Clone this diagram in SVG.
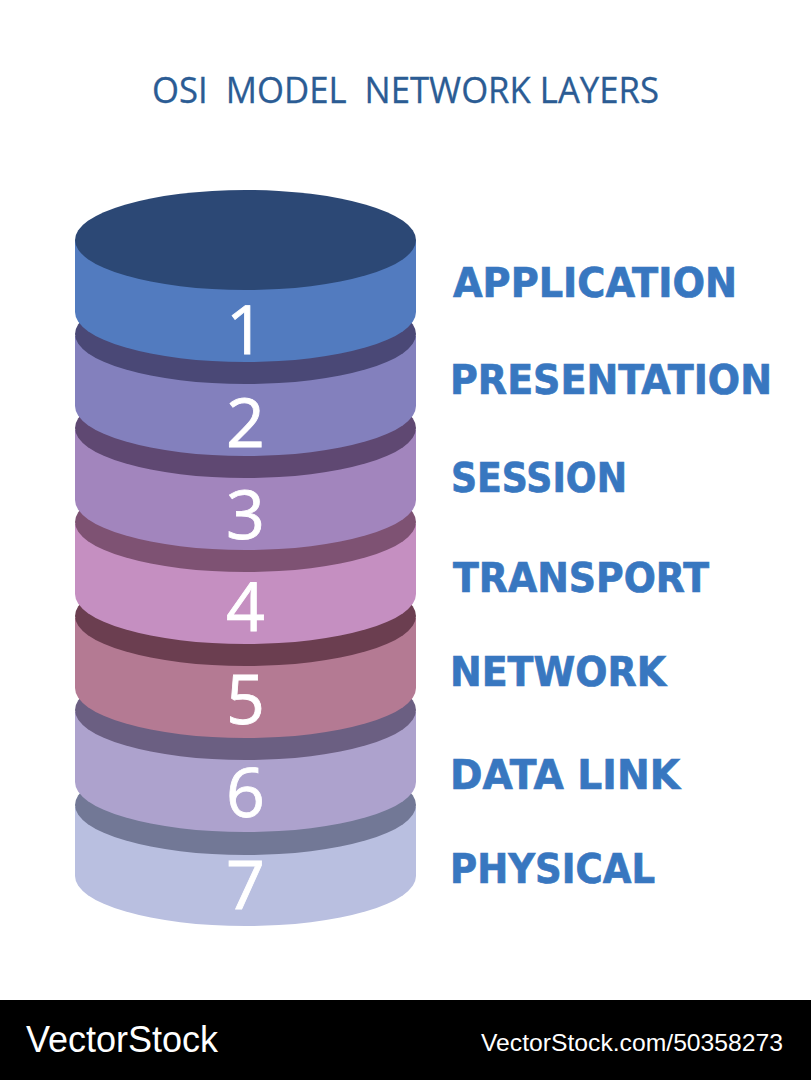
<svg xmlns="http://www.w3.org/2000/svg" width="811" height="1080" viewBox="0 0 811 1080">
<style>
.t{font-family:"Open Sans","Noto Sans",sans-serif;}
.l{font-family:"DejaVu Sans",sans-serif;font-weight:700;font-size:40px;fill:#3877c0;stroke:#3877c0;stroke-width:0.7px;}
.n{font-family:"Open Sans","Noto Sans",sans-serif;font-size:68px;fill:#fff;stroke:#fff;stroke-width:0.8px;text-anchor:middle;}
.w{font-family:"Liberation Sans",sans-serif;fill:#fff;}
</style>
<rect width="811" height="1080" fill="#fff"/>
<text class="t" x="152" y="103" font-size="36" fill="#2b5c94" stroke="#2b5c94" stroke-width="0.3" textLength="507" lengthAdjust="spacingAndGlyphs" xml:space="preserve">OSI  MODEL  NETWORK LAYERS</text>
<g id="layer7"><path d="M75 807V876A170.500 50 0 0 0 416 876V807Z" fill="#b9bfe0"/><ellipse cx="245.500" cy="805" rx="170.500" ry="50" fill="#727896"/><text class="n" x="245.500" y="909">7</text></g>
<g id="layer6"><path d="M75 712V782A170.500 50 0 0 0 416 782V712Z" fill="#ada2cd"/><ellipse cx="245.500" cy="710" rx="170.500" ry="50" fill="#6b5f82"/><text class="n" x="245.500" y="817">6</text></g>
<g id="layer5"><path d="M75 618V688A170.500 50 0 0 0 416 688V618Z" fill="#b47a93"/><ellipse cx="245.500" cy="616" rx="170.500" ry="50" fill="#6b3e50"/><text class="n" x="245.500" y="724">5</text></g>
<g id="layer4"><path d="M75 524V594A170.500 50 0 0 0 416 594V524Z" fill="#c58fc1"/><ellipse cx="245.500" cy="522" rx="170.500" ry="50" fill="#7e5273"/><text class="n" x="245.500" y="631">4</text></g>
<g id="layer3"><path d="M75 430V500A170.500 50 0 0 0 416 500V430Z" fill="#a285bd"/><ellipse cx="245.500" cy="428" rx="170.500" ry="50" fill="#5f4872"/><text class="n" x="245.500" y="539">3</text></g>
<g id="layer2"><path d="M75 336V406A170.500 50 0 0 0 416 406V336Z" fill="#8380bd"/><ellipse cx="245.500" cy="334" rx="170.500" ry="50" fill="#4a4876"/><text class="n" x="245.500" y="447">2</text></g>
<g id="layer1"><path d="M75 240V312A170.500 50 0 0 0 416 312V240Z" fill="#527bbf"/><ellipse cx="245.500" cy="240" rx="170.500" ry="50" fill="#2c4875"/><text class="n" x="245.500" y="354">1</text></g>
<g id="labels">
<text class="l" x="453" y="297" textLength="284" lengthAdjust="spacingAndGlyphs">APPLICATION</text>
<text class="l" x="450" y="394" textLength="322" lengthAdjust="spacingAndGlyphs">PRESENTATION</text>
<text class="l" x="451" y="492" textLength="176" lengthAdjust="spacingAndGlyphs">SESSION</text>
<text class="l" x="453" y="592" textLength="256" lengthAdjust="spacingAndGlyphs">TRANSPORT</text>
<text class="l" x="450" y="686" textLength="216" lengthAdjust="spacingAndGlyphs">NETWORK</text>
<text class="l" x="450" y="789" textLength="230" lengthAdjust="spacingAndGlyphs">DATA LINK</text>
<text class="l" x="450" y="883" textLength="205" lengthAdjust="spacingAndGlyphs">PHYSICAL</text>
</g>
<g id="footer"><rect y="1000" width="811" height="80" fill="#000"/>
<text class="w" x="26" y="1052" font-size="36" textLength="192" lengthAdjust="spacingAndGlyphs">VectorStock</text><text class="w" x="481" y="1051" font-size="24" textLength="302" lengthAdjust="spacingAndGlyphs">VectorStock.com/50358273</text></g>
</svg>
